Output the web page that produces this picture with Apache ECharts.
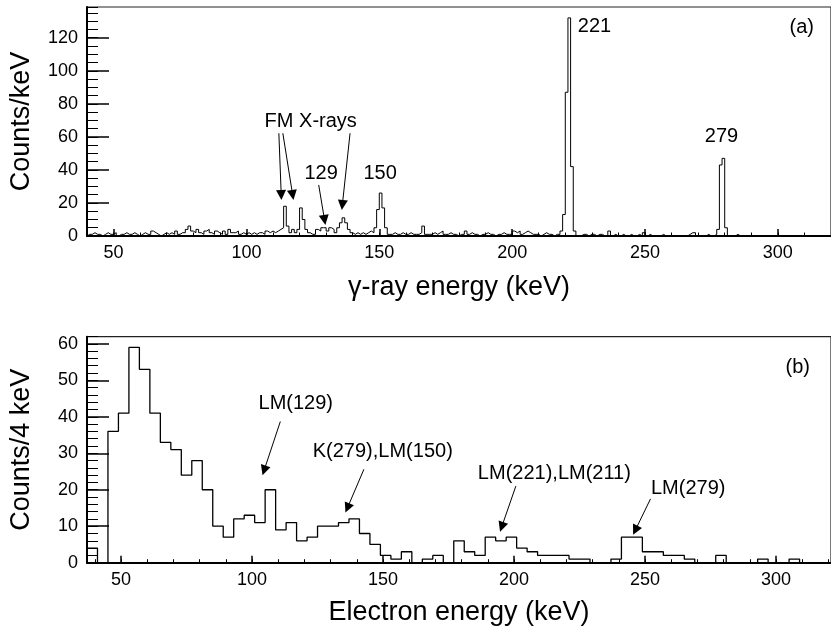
<!DOCTYPE html>
<html><head><meta charset="utf-8">
<script src="https://cdn.jsdelivr.net/npm/echarts@6/dist/echarts.min.js"></script>
<style>html,body{margin:0;padding:0;background:#fff}#c{width:831px;height:631px}</style>
</head><body><div id="c"></div>
<script>
// ---- Panel (a): gamma-ray spectrum, 1 keV bins, first bin lower edge 40 keV
const gammaFirstEdge = 40;
const gammaBinWidth = 1;
const gammaCounts = [
  1,1,2,1,1,0,1,2,1,1,
  2,0,1,1,2,1,1,2,1,0,
  1,2,1,1,3,2,1,0,1,2,
  1,2,1,3,1,2,2,4,6,3,
  2,4,2,1,3,4,2,1,3,2,
  1,3,1,4,2,2,3,1,2,1,
  2,1,2,1,2,2,1,3,2,3,
  2,3,4,5,18,6,2,4,2,4,
  17,10,4,2,1,1,4,3,5,5,
  3,5,4,2,5,8,11,8,4,2,
  1,2,1,2,1,2,3,2,5,16,
  26,17,5,1,1,2,1,1,2,1,
  1,2,1,1,1,2,6,1,1,1,
  2,1,2,3,1,1,2,1,1,0,
  1,1,3,1,2,1,1,0,1,1,
  2,1,1,0,1,1,2,1,1,1,
  3,2,3,1,2,3,2,1,1,1,
  0,1,2,1,1,0,1,1,3,13,
  87,132,42,3,0,0,1,1,0,1,
  1,0,1,1,0,0,3,0,1,0,
  0,1,0,0,1,0,0,1,0,2,
  0,1,0,0,0,0,1,0,0,0,
  0,0,0,0,0,0,1,2,2,0,
  0,0,0,1,0,0,1,4,43,47,
  5,0,0,0,1,0,0,0,0,0,
  0,0,0,0,0,0,0,0,0,0,
  0,0,0,0,0,0,0,0,0,0,
  0,0,0,0,0,0,0,0,0,0
];
const gammaTickLabels = [50, 100, 150, 200, 250, 300];

// ---- Panel (b): electron spectrum, 4 keV bins, first bin lower edge 37 keV
const electronFirstEdge = 37;
const electronBinWidth = 4;
const electronCounts = [
  4, 0, 36, 41, 59, 53, 41, 33, 31, 24,
  28, 20, 10, 7, 12, 13, 11, 20, 9, 11,
  6, 7, 10, 10, 11, 12, 8, 5, 2, 1,
  3, 0, 1, 2, 0, 6, 3, 2, 7, 6,
  7, 4, 3, 2, 2, 2, 1, 1, 0, 0,
  1, 7, 7, 3, 3, 2, 2, 1, 0, 0,
  2, 0, 0, 0, 1, 0, 0, 1, 0, 0, 0
];
const electronTickLabels = [50, 100, 150, 200, 250, 300];

// ---- Annotations (data coordinates)
const gammaTexts = [
  {text: 'FM X-rays', x: 124.2, y: 69.3},
  {text: '129', x: 128.1, y: 38},
  {text: '150', x: 150.3, y: 38},
  {text: '221', x: 231.0, y: 126.7},
  {text: '279', x: 278.8, y: 60.2},
  {text: '(a)', x: 309.0, y: 125.9}
];
const gammaArrows = [
  [[112.2, 62.2], [113.1, 24.8]],
  [[113.7, 62.2], [117.4, 24.8]],
  [[139.0, 62.2], [136.1, 18.8]],
  [[127.2, 30.9], [129.4, 9.7]]
];
const electronTexts = [
  {text: 'LM(129)', x: 116.7, y: 43.6},
  {text: 'K(279),LM(150)', x: 149.9, y: 30.4},
  {text: 'LM(221),LM(211)', x: 215.4, y: 24.4},
  {text: 'LM(279)', x: 266.5, y: 20.3},
  {text: '(b)', x: 308.3, y: 53.6}
];
const electronArrows = [
  [[110.8, 38.7], [104.6, 25.3]],
  [[142.7, 25.6], [136.4, 15.0]],
  [[200.7, 21.0], [195.3, 9.8]],
  [[252.1, 17.5], [246.3, 8.9]]
];

function stepPoints(firstEdge, width, counts) {
  const pts = [[firstEdge, 0]];
  for (let i = 0; i < counts.length; i++) pts.push([firstEdge + i * width, counts[i]]);
  const last = firstEdge + counts.length * width;
  pts.push([last, counts[counts.length - 1]]);
  pts.push([last, 0]);
  return pts;
}
function range(a, b, s) { const r = []; for (let v = a; v <= b + 1e-9; v += s) r.push(v); return r; }

const FONT = "'Liberation Sans', Arial, Helvetica, sans-serif";
const black = '#000';

const chart = echarts.init(document.getElementById('c'), null, {renderer: 'canvas'});

function xMajor(grid, min, max, ticks, name, nameGap) {
  return {
    gridIndex: grid, type: 'value', min: min, max: max, position: 'bottom',
    axisLine: {show: true, onZero: false, lineStyle: {color: black, width: 2}},
    axisTick: {show: true, inside: true, length: 7, customValues: ticks, lineStyle: {color: black, width: 1.5}},
    axisLabel: {show: true, customValues: ticks, color: black, fontSize: 18, fontFamily: FONT, margin: 8},
    splitLine: {show: false},
    name: name, nameLocation: 'middle', nameGap: nameGap,
    nameTextStyle: {color: black, fontSize: 27, fontFamily: FONT}
  };
}
function xMinor(grid, min, max, ticks) {
  return {
    gridIndex: grid, type: 'value', min: min, max: max, position: 'bottom',
    axisLine: {show: false, onZero: false},
    axisTick: {show: true, inside: true, length: 3.5, customValues: ticks, lineStyle: {color: black, width: 1}},
    axisLabel: {show: false}, splitLine: {show: false}
  };
}
function yMajor(grid, max, interval, name, nameGap) {
  return {
    gridIndex: grid, type: 'value', min: 0, max: max, interval: interval, position: 'left',
    axisLine: {show: true, onZero: false, lineStyle: {color: black, width: 2}},
    axisTick: {show: true, inside: true, length: 22, lineStyle: {color: black, width: 1.5}},
    axisLabel: {show: true, showMaxLabel: false, color: black, fontSize: 18, fontFamily: FONT, margin: 9},
    splitLine: {show: false},
    name: name, nameLocation: 'middle', nameGap: nameGap, nameRotate: 90,
    nameTextStyle: {color: black, fontSize: 27, fontFamily: FONT}
  };
}
function yMinor(grid, max, interval) {
  return {
    gridIndex: grid, type: 'value', min: 0, max: max, interval: interval, position: 'left',
    axisLine: {show: false, onZero: false},
    axisTick: {show: true, inside: true, length: 11, lineStyle: {color: black, width: 1}},
    axisLabel: {show: false}, splitLine: {show: false}
  };
}
function arrowLines(arrows) {
  return arrows.map(a => [{coord: a[0]}, {coord: a[1]}]);
}

const gammaMaxY = 138.6, electronMaxY = 61.95;

chart.setOption({
  animation: false,
  backgroundColor: '#fff',
  grid: [
    {left: 87, top: 7, width: 748.4, height: 229, show: true, borderColor: '#222', borderWidth: 1.2, backgroundColor: 'transparent'},
    {left: 86, top: 336.7, width: 751.6, height: 226, show: true, borderColor: '#222', borderWidth: 1.2, backgroundColor: 'transparent'}
  ],
  xAxis: [
    xMajor(0, 40, 320, gammaTickLabels, 'γ-ray energy (keV)', 38),
    xMinor(0, 40, 320, range(40, 320, 10)),
    xMajor(1, 37, 321, electronTickLabels, 'Electron energy (keV)', 36),
    xMinor(1, 37, 321, range(40, 320, 10))
  ],
  yAxis: [
    yMajor(0, gammaMaxY, 20, 'Counts/keV', 52),
    yMinor(0, gammaMaxY, 5),
    yMajor(1, electronMaxY, 10, 'Counts/4 keV', 52),
    yMinor(1, electronMaxY, 2)
  ],
  series: [
    {
      type: 'line', xAxisIndex: 0, yAxisIndex: 0, step: 'end', showSymbol: false, symbol: 'none',
      data: stepPoints(gammaFirstEdge, gammaBinWidth, gammaCounts),
      lineStyle: {color: black, width: 1}, clip: true,
      markLine: {silent: true, symbol: ['none', 'triangle'], symbolSize: 10, label: {show: false},
        lineStyle: {color: black, width: 1, type: 'solid'}, itemStyle: {color: black}, emphasis: {disabled: true}, data: arrowLines(gammaArrows)}
    },
    {
      type: 'line', xAxisIndex: 2, yAxisIndex: 2, step: 'end', showSymbol: false, symbol: 'none',
      data: stepPoints(electronFirstEdge, electronBinWidth, electronCounts),
      lineStyle: {color: black, width: 1.3}, clip: true,
      markLine: {silent: true, symbol: ['none', 'triangle'], symbolSize: 10, label: {show: false},
        lineStyle: {color: black, width: 1, type: 'solid'}, itemStyle: {color: black}, emphasis: {disabled: true}, data: arrowLines(electronArrows)}
    }
  ]
});

const graphics = [];
function addTexts(list, xi, yi) {
  list.forEach(t => {
    const p = chart.convertToPixel({xAxisIndex: xi, yAxisIndex: yi}, [t.x, t.y]);
    graphics.push({type: 'text', x: p[0], y: p[1],
      style: {text: t.text, fill: black, font: '20px ' + FONT, textAlign: 'center', textVerticalAlign: 'middle'}});
  });
}
addTexts(gammaTexts, 0, 0);
addTexts(electronTexts, 2, 2);
chart.setOption({graphic: graphics});
</script>
</body></html>
